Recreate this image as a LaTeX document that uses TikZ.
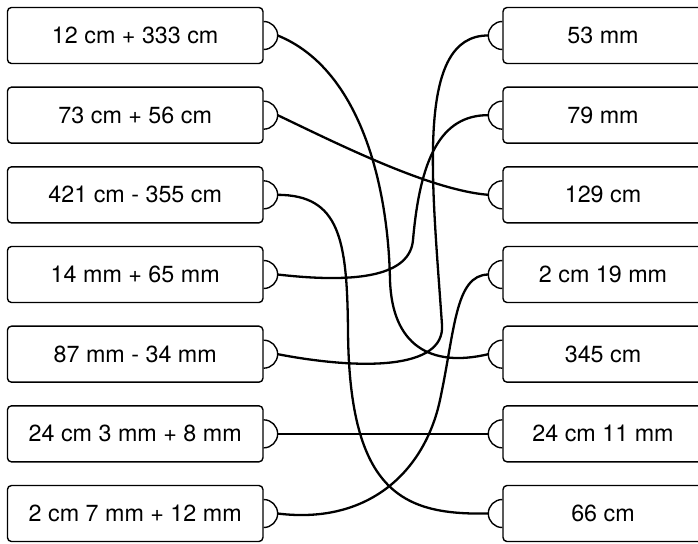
\documentclass[tikz,border=0pt]{standalone}
\usepackage{fontspec}
\setmainfont{TeX Gyre Heros}

\def\punkt#1#2{({#1},{543-(#2)})}
\def\zeile#1{(35.5+79.67*(#1-1))}

\tikzset{
  card/.style={draw, rounded corners=4pt, line width=1.4pt, minimum height=56pt,
    inner sep=0pt, font=\fontsize{23.3}{28}\selectfont},
  lcard/.style={card, minimum width=255.5pt},
  rcard/.style={card, minimum width=200pt},
  tab/.style={line width=1.4pt},
  wire/.style={line width=2.3pt}
}

\begin{document}
\begin{tikzpicture}[x=1pt,y=1pt]
\useasboundingbox (0,0) rectangle (698,543);
\clip (0,0) rectangle (698,543);
\foreach \i/\t in {1/{12 cm + 333 cm},2/{73 cm + 56 cm},3/{421 cm - 355 cm},
  4/{14 mm + 65 mm},5/{87 mm - 34 mm},6/{24 cm 3 mm + 8 mm},7/{2 cm 7 mm + 12 mm}}{
	\node[lcard] (l\i) at \punkt{135.2}{\zeile{\i}} {\t};
	\draw[tab] ([yshift=14pt]l\i.east) arc[start angle=90,end angle=-90,radius=14pt];
	\coordinate (lt\i) at ([xshift=14pt]l\i.east);
}
\foreach \i/\t in {1/{53 mm},2/{79 mm},3/{129 cm},4/{2 cm 19 mm},5/{345 cm},
  6/{24 cm 11 mm},7/{66 cm}}{
	\node[rcard] (r\i) at \punkt{603}{\zeile{\i}} {\t};
	\draw[tab] ([yshift=14pt]r\i.west) arc[start angle=90,end angle=270,radius=14pt];
	\coordinate (rt\i) at ([xshift=-14pt]r\i.west);
}
% wires
\draw[wire] (lt1) .. controls \punkt{358}{68} and \punkt{388}{180} .. \punkt{390}{280}
  .. controls \punkt{392}{345} and \punkt{430}{368} .. (rt5);
\draw[wire] (lt2) .. controls \punkt{340}{145} and \punkt{430}{190} .. (rt3);
\draw[wire] (lt3) .. controls \punkt{340}{195} and \punkt{347}{240} .. \punkt{348}{330}
  .. controls \punkt{349}{495} and \punkt{405}{515} .. (rt7);
\draw[wire] (lt4) .. controls \punkt{360}{284} and \punkt{410}{275} .. \punkt{413}{240}
  .. controls \punkt{420}{160} and \punkt{440}{115} .. (rt2);
\draw[wire] (lt5) .. controls \punkt{360}{370} and \punkt{445}{370} .. \punkt{442}{325}
  .. controls \punkt{432}{180} and \punkt{415}{35} .. (rt1);
\draw[wire] (lt6) -- (rt6);
\draw[wire] (lt7) .. controls \punkt{370}{525} and \punkt{425}{470} .. \punkt{440}{400}
  .. controls \punkt{455}{330} and \punkt{455}{275} .. (rt4);
\end{tikzpicture}
\end{document}
